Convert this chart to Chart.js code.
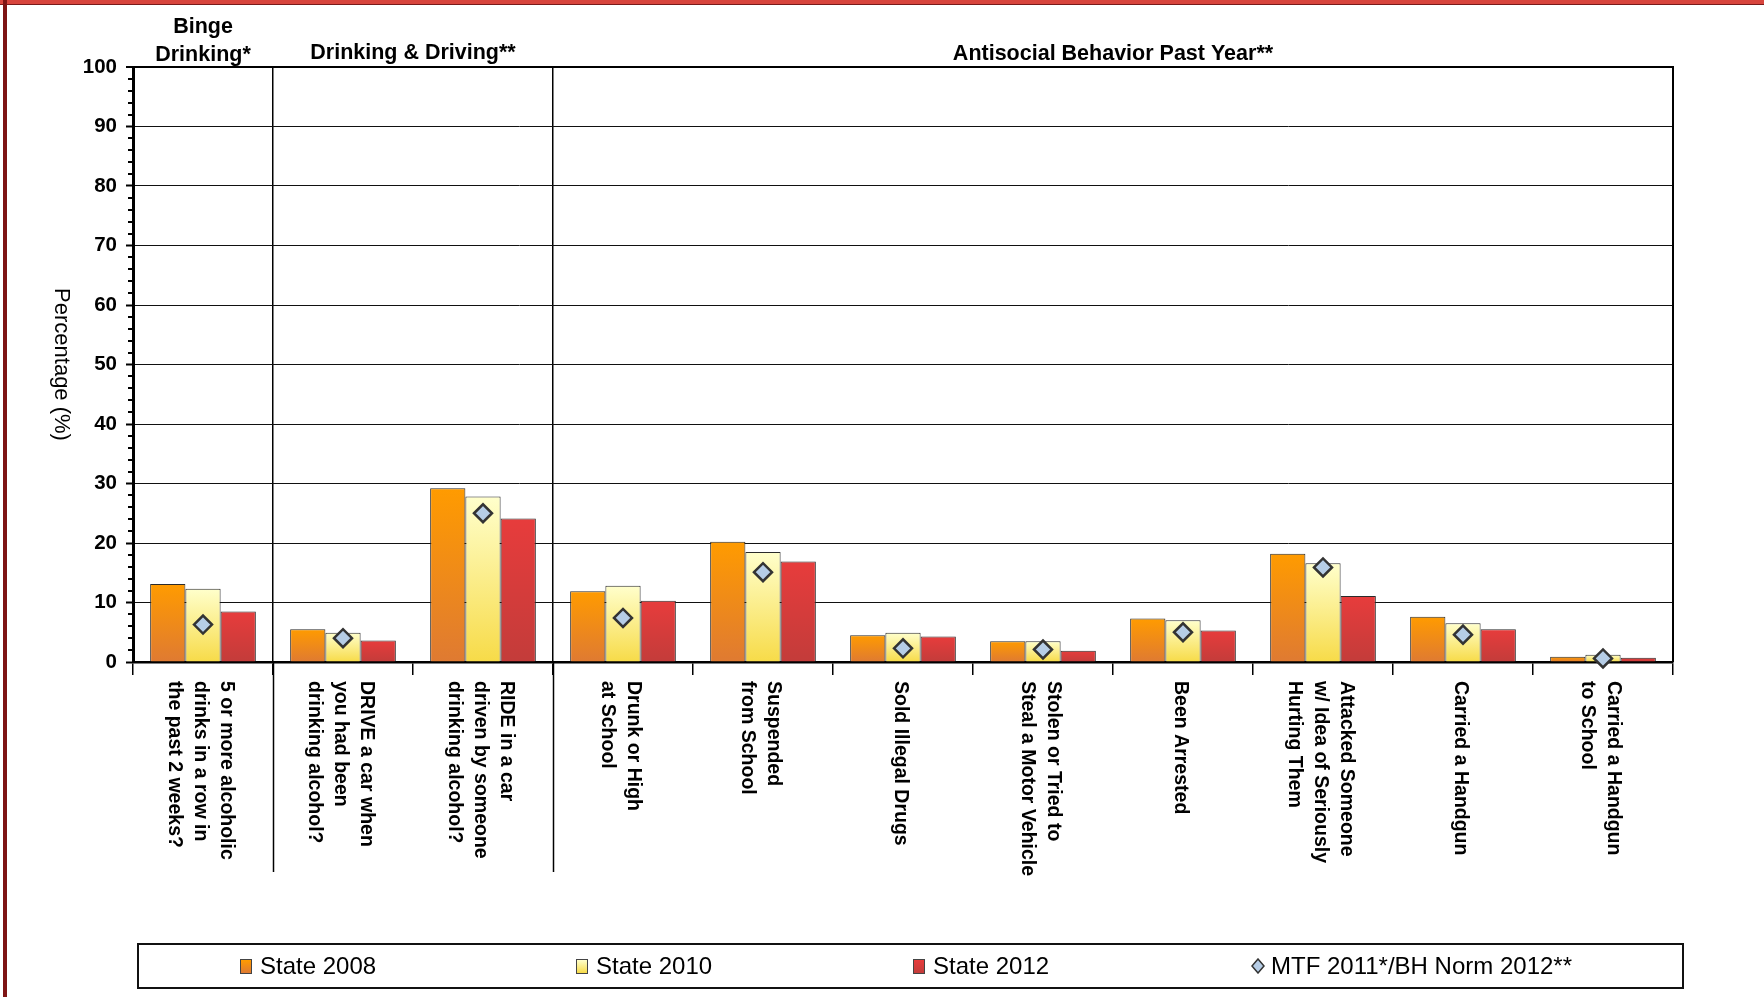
<!DOCTYPE html>
<html>
<head>
<meta charset="utf-8">
<title>Binge Drinking, Drinking & Driving and Antisocial Behavior</title>
<script src="https://cdn.jsdelivr.net/npm/chart.js@4.4.1/dist/chart.umd.min.js"></script>
<style>
body{margin:0;background:#fff;font-family:"Liberation Sans",Arial,sans-serif}
#page{position:relative;width:1764px;height:997px;overflow:hidden;background:#fff}
#topbar{position:absolute;left:0;top:0;width:1764px;height:4px;background:#d8453d;border-bottom:1px solid #7a1a1a}
#leftbar{position:absolute;left:3px;top:0;width:4px;height:997px;background:#7e1414}
#chart{position:absolute;left:0;top:0}
#legend{position:absolute;left:137px;top:943px;width:1547px;height:46px;box-sizing:border-box;border:2px solid #111}
.item{position:absolute;top:0;height:42px;display:flex;align-items:center;font-size:24px;color:#000;white-space:nowrap}
.box{width:12px;height:15px;border:1px solid #444;box-sizing:border-box;margin-right:8px}
.item svg{margin-right:6px}
</style>
</head>
<body>
<div id="page">
<canvas id="chart" width="1764" height="997"></canvas>
<div id="topbar"></div>
<div id="leftbar"></div>
<div id="legend"></div>
</div>

<script>

// category labels, one array of lines per category
const categories=[
["5 or more alcoholic","drinks in a row in","the past 2 weeks?"],
["DRIVE a car when","you had been","drinking alcohol?"],
["RIDE in a car","driven by someone","drinking alcohol?"],
["Drunk or High","at School"],
["Suspended","from School"],
["Sold Illegal Drugs"],
["Stolen or Tried to","Steal a Motor Vehicle"],
["Been Arrested"],
["Attacked Someone","w/ Idea of Seriously","Hurting Them"],
["Carried a Handgun"],
["Carried a Handgun","to School"]
]

// group headers: lines, first and last category index
const groupNames=[["Binge","Drinking*"],["Drinking & Driving**"],["Antisocial Behavior Past Year**"]]
const groupStart=[0,1,3]
const groupEnd=[0,2,10]

const seriesNames=["State 2008","State 2010","State 2012","MTF 2011*/BH Norm 2012**"]

const state2008=[13.1,5.5,29.2,11.9,20.2,4.5,3.5,7.3,18.2,7.6,0.9]
const state2010=[12.3,4.9,27.8,12.8,18.5,4.9,3.5,7.0,16.6,6.5,1.2]
const state2012=[8.5,3.6,24.1,10.3,16.9,4.3,1.9,5.3,11.1,5.5,0.7]
const norm=[6.3,4.0,25.0,7.4,15.1,2.3,2.1,5.0,15.9,4.6,0.6]

const yTicks=[0,10,20,30,40,50,60,70,80,90,100]

const FONT='"Liberation Sans", Arial, sans-serif'

const fills=[
["#ff9b00","#df7a32"],
["#ffffcc","#f7db48"],
["#e73c3c","#c33c3a"]
]

function barFill(pair){
return function(c){
if(c.type!=="data") return pair[0]
const chart=c.chart
const ys=chart.scales.y
if(!ys||ys.top===undefined) return pair[0]
const y0=ys.getPixelForValue(c.raw)
const y1=ys.getPixelForValue(0)
if(!(y1>y0)) return pair[0]
const g=chart.ctx.createLinearGradient(0,y0,0,y1)
g.addColorStop(0,pair[0])
g.addColorStop(1,pair[1])
return g
}
}

const extras={
id:"extras",
afterDraw(chart){

const ctx=chart.ctx
const area=chart.chartArea
const xs=chart.scales.x
const ys=chart.scales.y
const step=(area.right-area.left)/categories.length

ctx.save()

// top and right frame of the plot
ctx.strokeStyle="#000"
ctx.lineWidth=2
ctx.beginPath()
ctx.moveTo(area.left,area.top)
ctx.lineTo(area.right,area.top)
ctx.lineTo(area.right,area.bottom)
ctx.stroke()

// minor ticks on the value axis
ctx.lineWidth=2
for(let v=0;v<=100;v+=2){
if(v%10===0) continue
const y=Math.round(ys.getPixelForValue(v))
ctx.beginPath()
ctx.moveTo(area.left-5,y)
ctx.lineTo(area.left,y)
ctx.stroke()
}

// group separators run down into the label area
ctx.lineWidth=1.5
groupStart.slice(1).forEach(i=>{
const x=Math.round(xs.getPixelForValue(i)-step/2)+0.5
ctx.beginPath()
ctx.moveTo(x,area.bottom)
ctx.lineTo(x,872)
ctx.stroke()
})

// category labels, turned to read downward
ctx.fillStyle="#000"
ctx.font="bold 19.5px "+FONT
ctx.textAlign="left"
ctx.textBaseline="middle"
categories.forEach((lines,i)=>{
const cx=xs.getPixelForValue(i)-3
ctx.save()
ctx.translate(cx,681)
ctx.rotate(Math.PI/2)
lines.forEach((t,j)=>{
ctx.fillText(t,0,(j-(lines.length-1)/2)*26)
})
ctx.restore()
})

// group headers
ctx.font="bold 21.5px "+FONT
ctx.textAlign="center"
groupNames.forEach((lines,g)=>{
const x0=xs.getPixelForValue(groupStart[g])-step/2
const x1=xs.getPixelForValue(groupEnd[g])+step/2
const cx=(x0+x1)/2
if(lines.length===2){
ctx.fillText(lines[0],cx,27)
ctx.fillText(lines[1],cx,55)
}else{
ctx.fillText(lines[0],cx,g===1?53:54)
}
})

// value axis title, reading downward
ctx.font="22px "+FONT
ctx.translate(61,(area.top+area.bottom)/2)
ctx.rotate(Math.PI/2)
ctx.fillText("Percentage (%)",0,0)

ctx.restore()

}
}

const chart=new Chart(document.getElementById("chart"),{
type:"bar",
data:{
labels:categories.map(l=>l.join(" ")),
datasets:[
{
label:seriesNames[0],
data:state2008,
backgroundColor:barFill(fills[0]),
borderColor:"#2b2b2b",
borderWidth:1
},
{
label:seriesNames[1],
data:state2010,
backgroundColor:barFill(fills[1]),
borderColor:"#2b2b2b",
borderWidth:1
},
{
label:seriesNames[2],
data:state2012,
backgroundColor:barFill(fills[2]),
borderColor:"#2b2b2b",
borderWidth:1
},
{
type:"line",
label:seriesNames[3],
data:norm,
showLine:false,
order:-1,
clip:false,
pointStyle:"rectRot",
pointRadius:9,
pointHoverRadius:9,
pointBackgroundColor:"#b6cde6",
pointBorderColor:"#333",
pointBorderWidth:2.5
}
]
},
options:{
responsive:false,
animation:false,
devicePixelRatio:1,
categoryPercentage:0.755,
barPercentage:1,
layout:{padding:{left:0,top:67,right:91,bottom:0}},
plugins:{
legend:{display:false},
tooltip:{enabled:false}
},
scales:{
x:{
offset:true,
grid:{
offset:true,
color:c=>(c.index===1||c.index===3)?"#000":"rgba(0,0,0,0)",
lineWidth:1.5,
tickColor:"#000",
tickLength:13,
tickWidth:1.5
},
border:{color:"#000",width:2.5},
ticks:{display:false},
afterFit(s){s.height=335}
},
y:{
min:0,
max:100,
afterBuildTicks(s){s.ticks=yTicks.map(v=>({value:v}))},
ticks:{
color:"#000",
padding:9,
font:{family:FONT,size:20.5,weight:"bold"}
},
grid:{
color:"#111",
lineWidth:c=>c.index===10?2:1,
tickLength:7,
tickColor:"#000",
tickWidth:2
},
border:{color:"#000",width:3},
afterFit(s){s.width=133}
}
}
},
plugins:[extras]
})

// legend, spread over the box like the original
const legend=document.getElementById("legend")
const legendX=[101,437,774,1112]
seriesNames.forEach((name,i)=>{
const item=document.createElement("div")
item.className="item"
item.style.left=legendX[i]+"px"
if(i<3){
item.innerHTML='<span class="box" style="background:linear-gradient('+fills[i][0]+','+fills[i][1]+')"></span>'
}else{
item.innerHTML='<svg width="14" height="16" viewBox="0 0 14 16"><polygon points="7,1 13,8 7,15 1,8" fill="#b6cde6" stroke="#333" stroke-width="1.5"/></svg>'
}
const label=document.createElement("span")
label.textContent=name
item.appendChild(label)
legend.appendChild(item)
})

</script>
</body>
</html>
